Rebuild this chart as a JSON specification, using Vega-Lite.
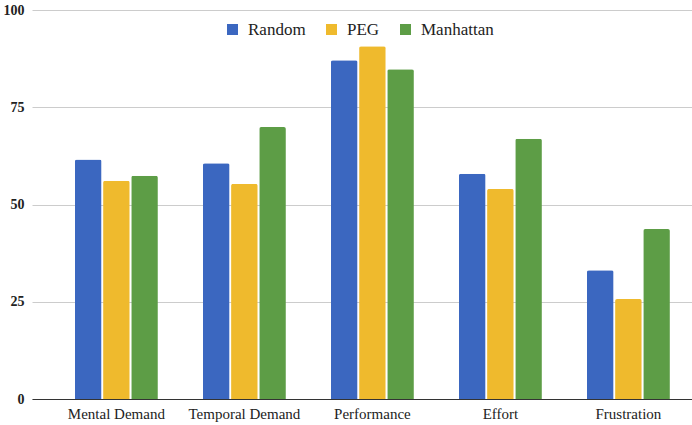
{
  "$schema": "https://vega.github.io/schema/vega-lite/v6.json",
  "width": 660,
  "height": 389,
  "autosize": {"type": "none"},
  "padding": {"left": 32, "top": 10, "right": 0, "bottom": 26},
  "background": "white",
  "config": {
    "view": {"stroke": null},
    "font": "Liberation Serif, Times New Roman, serif"
  },
  "data": {
    "values": [
      {"measure": "Mental Demand", "method": "Random", "score": 61.6},
      {"measure": "Mental Demand", "method": "PEG", "score": 56.1},
      {"measure": "Mental Demand", "method": "Manhattan", "score": 57.4},
      {"measure": "Temporal Demand", "method": "Random", "score": 60.6},
      {"measure": "Temporal Demand", "method": "PEG", "score": 55.3},
      {"measure": "Temporal Demand", "method": "Manhattan", "score": 69.9},
      {"measure": "Performance", "method": "Random", "score": 87.1},
      {"measure": "Performance", "method": "PEG", "score": 90.7},
      {"measure": "Performance", "method": "Manhattan", "score": 84.8},
      {"measure": "Effort", "method": "Random", "score": 57.9},
      {"measure": "Effort", "method": "PEG", "score": 54.0},
      {"measure": "Effort", "method": "Manhattan", "score": 66.9},
      {"measure": "Frustration", "method": "Random", "score": 33.1},
      {"measure": "Frustration", "method": "PEG", "score": 25.7},
      {"measure": "Frustration", "method": "Manhattan", "score": 43.7}
    ]
  },
  "mark": {"type": "bar", "cornerRadiusTopLeft": 2, "cornerRadiusTopRight": 2},
  "encoding": {
    "x": {
      "field": "measure",
      "type": "nominal",
      "sort": null,
      "scale": {"paddingInner": 0.352, "paddingOuter": 0.254, "align": 0.66},
      "axis": {
        "title": null,
        "labelAngle": 0,
        "labelFont": "Liberation Serif, Times New Roman, serif",
        "labelFontSize": 15,
        "labelColor": "#222",
        "labelPadding": 7,
        "ticks": false,
        "domainColor": "#333",
        "domainWidth": 1
      }
    },
    "xOffset": {
      "field": "method",
      "type": "nominal",
      "sort": ["Random", "PEG", "Manhattan"],
      "scale": {"paddingInner": 0.054, "paddingOuter": 0}
    },
    "y": {
      "field": "score",
      "type": "quantitative",
      "scale": {"domain": [0, 100], "nice": false},
      "axis": {
        "title": null,
        "values": [0, 25, 50, 75, 100],
        "labelFont": "Liberation Serif, Times New Roman, serif",
        "labelFontWeight": "bold",
        "labelFontSize": 14,
        "labelColor": "#222",
        "labelPadding": 8,
        "ticks": false,
        "domain": false,
        "gridColor": "#cccccc",
        "gridWidth": 1
      }
    },
    "color": {
      "field": "method",
      "type": "nominal",
      "sort": ["Random", "PEG", "Manhattan"],
      "scale": {
        "domain": ["Random", "PEG", "Manhattan"],
        "range": ["#3b67c0", "#efba2d", "#5d9d46"]
      },
      "legend": {
        "title": null,
        "orient": "none",
        "direction": "horizontal",
        "gridAlign": "none",
        "legendX": 192,
        "legendY": 11,
        "padding": 0,
        "symbolType": "square",
        "symbolSize": 121,
        "symbolStrokeWidth": 0,
        "labelFont": "Liberation Serif, Times New Roman, serif",
        "labelFontSize": 17,
        "labelColor": "#222",
        "labelOffset": 7,
        "columnPadding": 17
      }
    }
  }
}
